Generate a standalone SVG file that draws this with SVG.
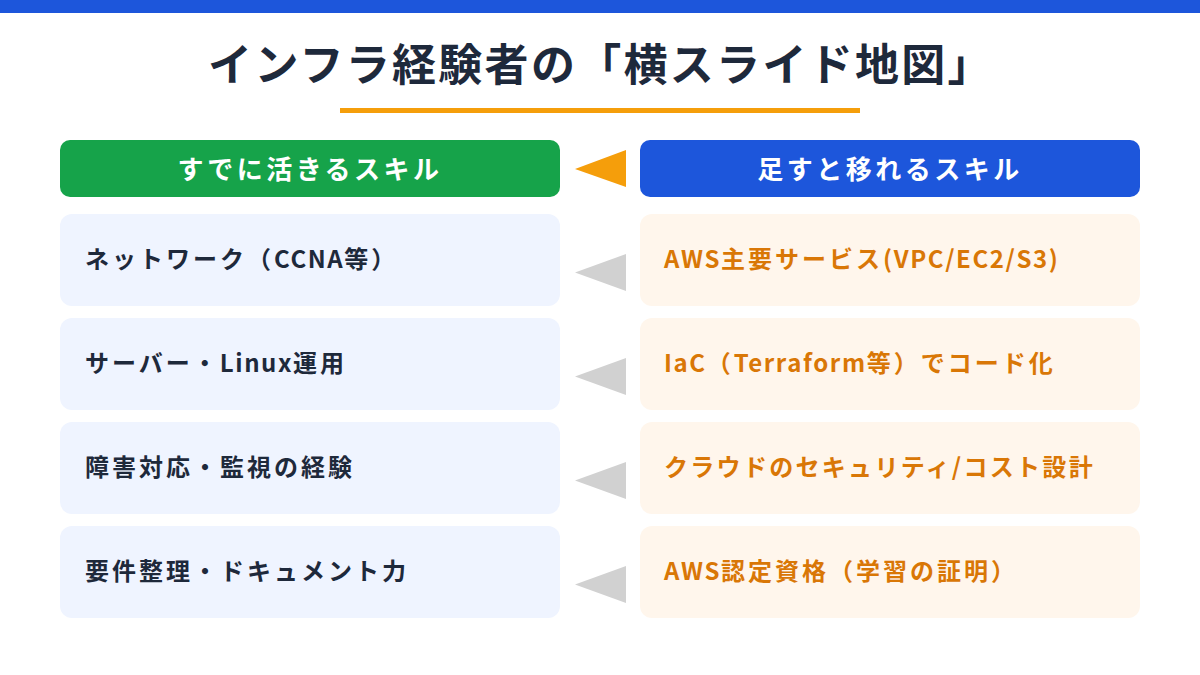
<svg xmlns="http://www.w3.org/2000/svg" width="1200" height="675" viewBox="0 0 1200 675">
<style>
text{font-family:"Noto Sans CJK JP","Noto Sans",sans-serif;font-weight:700}
.title{font-size:44px;fill:#1e293b;letter-spacing:2.3px}
.hdr{font-size:26px;fill:#ffffff;letter-spacing:3.5px}
.lt{font-size:24px;fill:#1e293b;letter-spacing:3px}
.rt{font-size:24px;fill:#d97706;letter-spacing:3px}
.la{letter-spacing:1.6px}
.lbox{fill:#eff4ff}
.rbox{fill:#fff6ec}
.garrow{fill:#d1d1d1}
</style>
<rect x="0" y="0" width="1200" height="675" fill="#ffffff"/>
<rect x="0" y="0" width="1200" height="13" fill="#1d56db"/>
<g id="title">
<text class="title" x="601" y="81" text-anchor="middle">インフラ経験者の「横スライド地図」</text>
<rect x="340" y="108" width="520" height="5" fill="#f59e0b"/>
</g>
<g id="hdr-left">
<rect x="60" y="140" width="500" height="57" rx="10" fill="#16a34a"/>
<text class="hdr" x="310" y="179" text-anchor="middle">すでに活きるスキル</text>
</g>
<g id="hdr-right">
<rect x="640" y="140" width="500" height="57" rx="10" fill="#1d56db"/>
<text class="hdr" x="890" y="179" text-anchor="middle">足すと移れるスキル</text>
</g>
<g id="l1"><rect class="lbox" x="60" y="214" width="500" height="92" rx="12"/><text class="lt" x="85" y="268">ネットワーク（<tspan class="la">CCNA</tspan>等）</text></g>
<g id="l2"><rect class="lbox" x="60" y="318" width="500" height="92" rx="12"/><text class="lt" x="85" y="372">サーバー・<tspan class="la">Linux</tspan>運用</text></g>
<g id="l3"><rect class="lbox" x="60" y="422" width="500" height="92" rx="12"/><text class="lt" x="85" y="476">障害対応・監視の経験</text></g>
<g id="l4"><rect class="lbox" x="60" y="526" width="500" height="92" rx="12"/><text class="lt" x="85" y="580">要件整理・ドキュメント力</text></g>
<g id="r1"><rect class="rbox" x="640" y="214" width="500" height="92" rx="12"/><text class="rt" x="664" y="268"><tspan class="la">AWS</tspan>主要サービス<tspan class="la">(VPC/EC2/S3)</tspan></text></g>
<g id="r2"><rect class="rbox" x="640" y="318" width="500" height="92" rx="12"/><text class="rt" x="664" y="372"><tspan class="la">IaC</tspan>（<tspan class="la">Terraform</tspan>等）でコード化</text></g>
<g id="r3"><rect class="rbox" x="640" y="422" width="500" height="92" rx="12"/><text class="rt" x="664" y="476" style="letter-spacing:2.3px">クラウドのセキュリティ/コスト設計</text></g>
<g id="r4"><rect class="rbox" x="640" y="526" width="500" height="92" rx="12"/><text class="rt" x="664" y="580"><tspan class="la">AWS</tspan>認定資格（学習の証明）</text></g>
<g id="connectors">
<polygon points="626,150 626,187 575,169" fill="#f59e0b"/>
<polygon class="garrow" points="626,254 626,291 575,272.5"/>
<polygon class="garrow" points="626,358 626,395 575,376.5"/>
<polygon class="garrow" points="626,462 626,499 575,480.5"/>
<polygon class="garrow" points="626,566 626,603 575,584.5"/>
</g>
</svg>
